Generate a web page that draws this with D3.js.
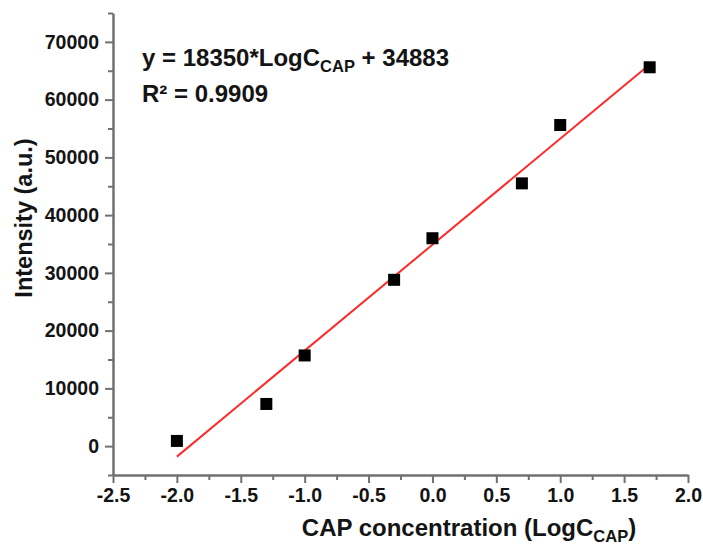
<!DOCTYPE html>
<html>
<head>
<meta charset="utf-8">
<script src="https://cdn.jsdelivr.net/npm/d3@7"></script>
<style>
  html, body { margin: 0; padding: 0; background: #fff; }
  svg { display: block; font-family: "Liberation Sans", Arial, sans-serif; }
</style>
</head>
<body>
<svg id="chart" width="703" height="550"></svg>
<script>
// ---- data ----
const logConc = [-2.0, -1.3, -1.0, -0.3, 0.0, 0.7, 1.0, 1.7];
const intensity = [900, 7300, 15700, 28800, 36000, 45500, 55600, 65600];
const fitSlope = 18350;
const fitIntercept = 34883;
const fitRange = [-2.0, 1.7];
const xTicks = [-2.5, -2.0, -1.5, -1.0, -0.5, 0.0, 0.5, 1.0, 1.5, 2.0];
const xMinorTicks = [-2.25, -1.75, -1.25, -0.75, -0.25, 0.25, 0.75, 1.25, 1.75];
const yTicks = [0, 10000, 20000, 30000, 40000, 50000, 60000, 70000];
const yMinorTicks = [-5000, 5000, 15000, 25000, 35000, 45000, 55000, 65000, 75000];
const xTitle = "CAP concentration (LogC";
const xTitleSub = "CAP";
const yTitle = "Intensity (a.u.)";
const eqText = ["y = 18350*LogC", "CAP", " + 34883"];
const r2Text = "R² = 0.9909";

// ---- layout ----
const svg = d3.select("#chart");
const x = d3.scaleLinear().domain([-2.5, 2.0]).range([113, 688]);
const y = d3.scaleLinear().domain([-5000, 75000]).range([475, 13]);
const axisColor = "#707070";
const textColor = "#141414";
const fmtX = d => d3.format(".1f")(d).replace("\u2212", "-");

// X axis
const gx = svg.append("g").attr("transform", `translate(0,${y(-5000)})`);
gx.call(d3.axisBottom(x).tickValues(xTicks).tickFormat(fmtX).tickSize(8).tickSizeOuter(0).tickPadding(5));
gx.append("g").call(d3.axisBottom(x).tickValues(xMinorTicks).tickFormat("").tickSize(5).tickSizeOuter(0))
  .select(".domain").remove();

// Y axis
const gy = svg.append("g").attr("transform", `translate(${x(-2.5)},0)`);
gy.call(d3.axisLeft(y).tickValues(yTicks).tickFormat(d3.format("d")).tickSize(8).tickSizeOuter(0).tickPadding(6));
gy.append("g").call(d3.axisLeft(y).tickValues(yMinorTicks).tickFormat("").tickSize(5).tickSizeOuter(0))
  .select(".domain").remove();

svg.selectAll(".domain").attr("stroke", axisColor).attr("stroke-width", 2.5);
svg.selectAll(".tick line").attr("stroke", axisColor).attr("stroke-width", 2);
svg.selectAll(".tick text")
  .attr("fill", textColor)
  .style("font-size", "19.5px")
  .style("font-weight", "bold")
  .style("font-family", "'Liberation Sans', Arial, sans-serif");

// fit line
const line = d3.line().x(d => x(d)).y(d => y(fitSlope * d + fitIntercept));
svg.append("path")
  .datum(fitRange)
  .attr("d", line)
  .attr("fill", "none")
  .attr("stroke", "#ff2a2a")
  .attr("stroke-width", 2);

// points
const sq = 12;
svg.append("g").selectAll("rect")
  .data(logConc.map((v, i) => [v, intensity[i]]))
  .join("rect")
  .attr("x", d => x(d[0]) - sq / 2)
  .attr("y", d => y(d[1]) - sq / 2)
  .attr("width", sq)
  .attr("height", sq)
  .attr("fill", "#000");

// equation text
const eq = svg.append("text")
  .attr("x", 142).attr("y", 66)
  .attr("fill", textColor)
  .style("font-size", "24px").style("font-weight", "bold");
eq.append("tspan").text(eqText[0]);
eq.append("tspan").attr("dy", 6).style("font-size", "16.5px").text(eqText[1]);
eq.append("tspan").attr("dy", -6).text(eqText[2]);

svg.append("text")
  .attr("x", 142).attr("y", 102)
  .attr("fill", textColor)
  .style("font-size", "24px").style("font-weight", "bold")
  .text(r2Text);

// x title
const xt = svg.append("text")
  .attr("x", 469).attr("y", 536)
  .attr("text-anchor", "middle")
  .attr("fill", textColor)
  .style("font-size", "24px").style("font-weight", "bold");
xt.append("tspan").text(xTitle);
xt.append("tspan").attr("dy", 6).style("font-size", "16.5px").text(xTitleSub);
xt.append("tspan").attr("dy", -6).text(")");

// y title
svg.append("text")
  .attr("transform", "translate(32,218) rotate(-90)")
  .attr("text-anchor", "middle")
  .attr("fill", textColor)
  .style("font-size", "23.5px").style("font-weight", "bold")
  .text(yTitle);
</script>
</body>
</html>
